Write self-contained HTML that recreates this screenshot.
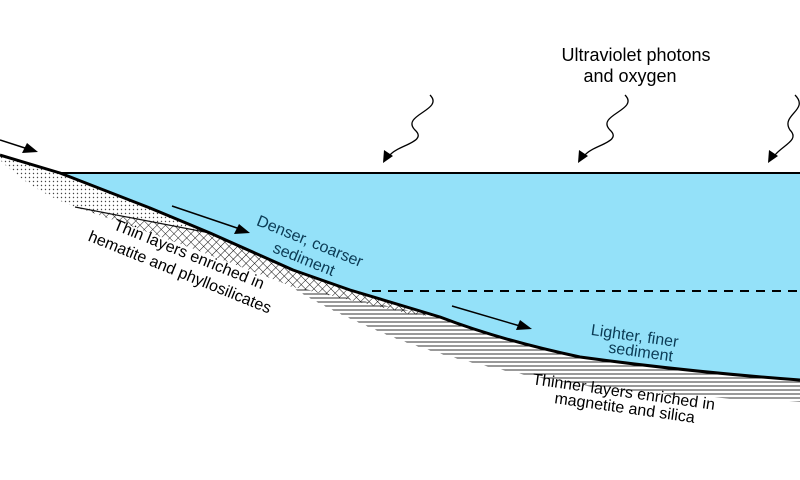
<!DOCTYPE html>
<html><head><meta charset="utf-8"><style>
html,body{margin:0;padding:0;background:#fff}
svg{display:block}
text{font-family:"Liberation Sans",sans-serif;font-size:16px}
</style></head><body>
<svg width="800" height="480" viewBox="0 0 800 480" xmlns="http://www.w3.org/2000/svg">
<defs>
<pattern id="hatch" width="6" height="6" patternUnits="userSpaceOnUse" patternTransform="rotate(45)">
<path d="M0 0H6M0 0V6" stroke="#111" stroke-width="1"/>
</pattern>
<pattern id="dots" width="4" height="4" patternUnits="userSpaceOnUse">
<circle cx="1.5" cy="1.5" r="0.7" fill="#444"/>
</pattern>
<pattern id="lines" width="10" height="4" patternUnits="userSpaceOnUse">
<path d="M0 2H10" stroke="#333" stroke-width="1"/>
</pattern>
</defs>
<path d="M60 173 L800 173 L800 380 Q690 372 580 357 Q500 340 440 317 L350 290 L293 270 L210 233 L150 208 Z" fill="#94e1f9"/>
<path d="M290 286 L440 317 Q500 340 580 357 Q690 372 800 380 L800 402 Q700 398 600 388 Q480 370 400 340 Q330 312 290 286 Z" fill="url(#lines)"/>
<path d="M75 207 L210 233 L293 270 L350 290 L440 317 L410 314 Q350 300 293 287 Q160 235 75 207 Z" fill="url(#hatch)"/>
<path d="M0 155 L60 173 L150 208 L210 233 Q140 220 75 207 Q30 190 0 160 Z" fill="url(#dots)"/>
<path d="M75 207 L210 233" stroke="#111" stroke-width="1.2" fill="none"/>
<path d="M0 155 L60 173 L150 208 L210 233 L293 270 L350 290 L440 317 Q500 340 580 357 Q690 372 800 380" stroke="#000" stroke-width="3" fill="none" stroke-linejoin="round"/>
<line x1="60" y1="173" x2="800" y2="173" stroke="#000" stroke-width="2"/>
<line x1="372" y1="291" x2="800" y2="291" stroke="#000" stroke-width="2" stroke-dasharray="9,7"/>
<g stroke="#000" stroke-width="1.5">
<line x1="0" y1="140" x2="28" y2="149"/>
<line x1="172" y1="206" x2="240" y2="229"/>
<line x1="452" y1="306" x2="520" y2="326"/>
</g>
<g fill="#000">
<polygon points="38,152 22,153 27,143"/>
<polygon points="250,233 234,234 239,224"/>
<polygon points="532,329 516,330 520,320"/>
</g>
<g stroke="#000" stroke-width="1.3" fill="none">
<path d="M430 95 C445 110 400 115 415 130 C428 142 398 145 390 155"/>
<path d="M625 95 C640 110 595 115 610 130 C623 142 593 145 585 155"/>
<path d="M795 95 C810 110 780 115 790 130 C800 140 783 145 775 155"/>
</g>
<g fill="#000">
<polygon points="383,163 384,150 393,156"/>
<polygon points="578,163 579,150 588,156"/>
<polygon points="768,163 769,150 778,156"/>
</g>
<text x="636" y="61" text-anchor="middle" style="font-size:18px">Ultraviolet photons</text>
<text x="630" y="82" text-anchor="middle" style="font-size:18px">and oxygen</text>
<g fill="#0b3b55">
<text transform="translate(308,246) rotate(22)" text-anchor="middle">Denser, coarser</text>
<text transform="translate(302,264) rotate(22)" text-anchor="middle">sediment</text>
<text transform="translate(634,341) rotate(8)" text-anchor="middle">Lighter, finer</text>
<text transform="translate(640,357) rotate(8)" text-anchor="middle">sediment</text>
</g>
<text transform="translate(187,259) rotate(22)" text-anchor="middle">Thin layers enriched in</text>
<text transform="translate(178,277) rotate(22)" text-anchor="middle">hematite and phyllosilicates</text>
<text transform="translate(623,397) rotate(8)" text-anchor="middle">Thinner layers enriched in</text>
<text transform="translate(624,413) rotate(8)" text-anchor="middle">magnetite and silica</text>
</svg>
</body></html>
